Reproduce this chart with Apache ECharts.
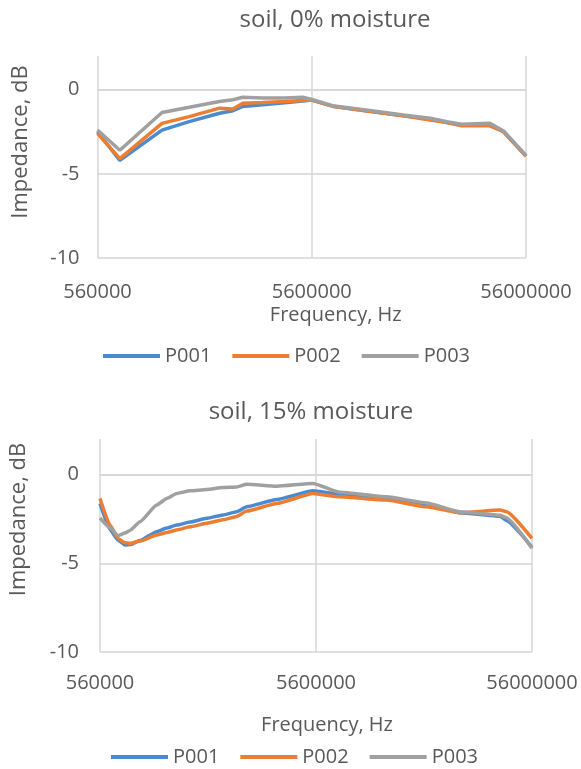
<!DOCTYPE html>
<html>
<head>
<meta charset="utf-8">
<script src="https://cdn.jsdelivr.net/npm/echarts@6/dist/echarts.min.js"></script>
<style>
html,body{margin:0;padding:0;background:#fff;}
#chart{width:581px;height:769px;}
</style>
</head>
<body>
<div id="chart"></div>
<script>
// ---- data ----
var seriesNames = ['P001', 'P002', 'P003'];
var xTickBase = 560000; // first tick label, ticks every decade
var xTickLabels = ['560000', '5600000', '56000000'];
var yTicks = [-10, -5, 0];

// soil, 0% moisture
var freqDry = [560000, 712000, 1120000, 1500000, 2080000, 2400000, 2670000, 3300000, 4200000, 5080000, 5600000, 7000000, 10000000, 15000000, 20000000, 24000000, 28000000, 38000000, 44000000, 56000000];
var dryP001 = [-2.5, -4.2, -2.4, -1.9, -1.4, -1.25, -1.0, -0.9, -0.78, -0.68, -0.62, -0.98, -1.25, -1.55, -1.75, -1.95, -2.1, -2.1, -2.5, -3.95];
var dryP002 = [-2.6, -4.1, -2.0, -1.6, -1.1, -1.15, -0.8, -0.76, -0.7, -0.65, -0.62, -0.98, -1.25, -1.55, -1.8, -1.95, -2.15, -2.15, -2.5, -3.95];
var dryP003 = [-2.4, -3.6, -1.36, -1.05, -0.7, -0.6, -0.45, -0.5, -0.5, -0.45, -0.58, -0.95, -1.2, -1.5, -1.7, -1.9, -2.05, -2.0, -2.45, -3.9];

// soil, 15% moisture
var freqWet = [560000, 623000, 678000, 731000, 771000, 858000, 1025000, 1140000, 1268000, 1462000, 1747000, 2078000, 2405000, 2675000, 3683000, 5422000, 7230000, 11890000, 18200000, 26000000, 39830000, 42770000, 56000000];
var wetP001 = [-1.63, -3.1, -3.69, -3.97, -3.95, -3.72, -3.22, -3.02, -2.85, -2.68, -2.47, -2.28, -2.1, -1.82, -1.41, -0.92, -1.1, -1.3, -1.65, -2.15, -2.35, -2.6, -4.1];
var wetP002 = [-1.35, -2.85, -3.6, -3.85, -3.88, -3.75, -3.41, -3.27, -3.12, -2.95, -2.75, -2.55, -2.36, -2.06, -1.63, -1.07, -1.26, -1.44, -1.82, -2.16, -2.0, -2.1, -3.6];
var wetP003 = [-2.45, -3.0, -3.45, -3.3, -3.15, -2.66, -1.72, -1.35, -1.07, -0.92, -0.85, -0.73, -0.7, -0.55, -0.66, -0.5, -1.0, -1.26, -1.6, -2.1, -2.3, -2.45, -4.15];

var titles = ['soil, 0% moisture', 'soil, 15% moisture'];
var colors = ['#4a8bd0', '#ed7d31', '#a0a0a0'];

// ---- chart ----
var FONT = '"Open Sans", "Liberation Sans", sans-serif';
var TXT = '#595959';
var GRIDC = '#d6d6d6';

function toX(f) { return Math.log10(f / xTickBase); }
function pts(freq, vals) { return freq.map(function (f, i) { return [toX(f), vals[i]]; }); }

var chart = echarts.init(document.getElementById('chart'), null, { renderer: 'canvas' });

function xAxisDef(gi, gap, padL, margin) {
  return {
    gridIndex: gi, type: 'value', min: 0, max: 2, interval: 1,
    axisLine: { show: true, lineStyle: { color: GRIDC, width: 1.5 } },
    axisTick: { show: false },
    splitLine: { show: true, lineStyle: { color: GRIDC, width: 1.5 } },
    axisLabel: {
      margin: margin, fontSize: 20, color: TXT, fontFamily: FONT,
      formatter: function (v) { return xTickLabels[Math.round(v)]; }
    },
    name: 'Frequency, Hz', nameLocation: 'middle', nameGap: gap,
    nameTextStyle: { fontSize: 20, color: TXT, fontFamily: FONT, padding: [0, 0, 0, padL] }
  };
}
function yAxisDef(gi, gap, padL, margin) {
  return {
    gridIndex: gi, type: 'value', min: yTicks[0], max: 2, interval: 5,
    axisLine: { show: false }, axisTick: { show: false },
    splitLine: { show: true, showMaxLine: false, lineStyle: { color: GRIDC, width: 1.5 } },
    axisLabel: { margin: margin, fontSize: 20, color: TXT, fontFamily: FONT, showMaxLabel: false },
    name: 'Impedance, dB', nameLocation: 'middle', nameGap: gap,
    nameTextStyle: { fontSize: 22, color: TXT, fontFamily: FONT, padding: [0, 0, 0, padL] }
  };
}
function lineSeries(name, idx, gi, freq, vals, smooth) {
  return {
    name: name, type: 'line', xAxisIndex: gi, yAxisIndex: gi,
    data: pts(freq, vals), showSymbol: false, symbol: 'none',
    smooth: smooth, smoothMonotone: 'x',
    lineStyle: { width: 3.5, color: colors[idx] }, itemStyle: { color: colors[idx] },
    emphasis: { disabled: true }, animation: false
  };
}

var legendBase = {
  data: seriesNames, icon: 'rect', itemWidth: 57, itemHeight: 4, itemGap: 21,
  textStyle: { fontSize: 20, color: TXT, fontFamily: FONT }
};

var option = {
  backgroundColor: '#fff',
  animation: false,
  color: colors,
  title: [
    { text: titles[0], left: 330, top: 3, textAlign: 'center', textStyle: { fontSize: 24, fontWeight: 'normal', color: TXT, fontFamily: FONT } },
    { text: titles[1], left: 306, top: 395, textAlign: 'center', textStyle: { fontSize: 24, fontWeight: 'normal', color: TXT, fontFamily: FONT } }
  ],
  legend: [
    Object.assign({}, legendBase, { left: 98, top: 341 }),
    Object.assign({}, legendBase, { left: 106, top: 742 })
  ],
  grid: [
    { left: 97.5, width: 428.5, top: 56, height: 202 },
    { left: 100, width: 432, top: 439, height: 213 }
  ],
  xAxis: [xAxisDef(0, 47, 48, 24), xAxisDef(1, 63, 22, 21)],
  yAxis: [yAxisDef(0, 66, 30, 18), yAxisDef(1, 70, 52, 21)],
  series: [
    lineSeries(seriesNames[0], 0, 0, freqDry, dryP001, false),
    lineSeries(seriesNames[1], 1, 0, freqDry, dryP002, false),
    lineSeries(seriesNames[2], 2, 0, freqDry, dryP003, false),
    lineSeries(seriesNames[0], 0, 1, freqWet, wetP001, 0.15),
    lineSeries(seriesNames[1], 1, 1, freqWet, wetP002, 0.15),
    lineSeries(seriesNames[2], 2, 1, freqWet, wetP003, 0.15)
  ]
};
chart.setOption(option);
</script>
</body>
</html>
